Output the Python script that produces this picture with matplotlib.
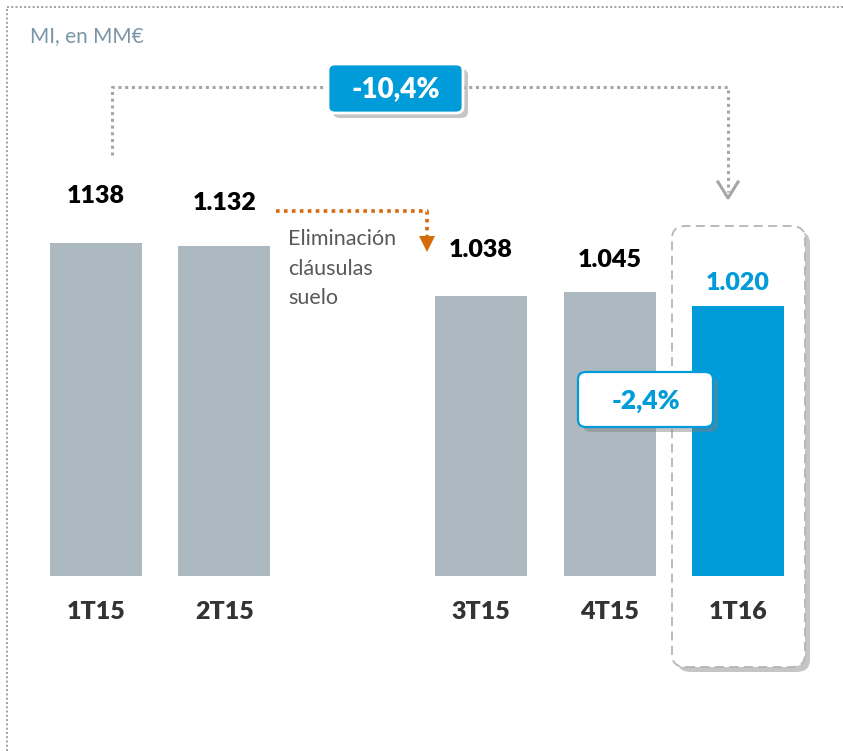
import matplotlib.pyplot as plt
from matplotlib.patches import FancyBboxPatch, Polygon

plt.rcParams['font.family'] = ['Lato', 'DejaVu Sans']

# datos
trimestres = ['1T15', '2T15', '3T15', '4T15', '1T16']
posiciones = [0, 1, 3, 4, 5]          # hueco entre 2T15 y 3T15
mi = [1138, 1132, 1038, 1045, 1020]
etiquetas = ['1138', '1.132', '1.038', '1.045', '1.020']
var_anual = '-10,4%'
var_trim = '-2,4%'

gris = '#adb9c0'
azul = '#009bd9'
W, H = 843, 751

fig = plt.figure(figsize=(W / 100, H / 100), dpi=100)
ax = fig.add_axes([0, 0, 1, 1])
ax.set_xlim(-0.7477, 5.818)
ax.set_ylim(179.8, 1596.8)
ax.axis('off')
tf = fig.transFigure


def P(x, y):
    # pixel (desde arriba) -> fraccion de figura
    return x / W, 1 - y / H


def caja(x0, y0, x1, y1, fc, ec, lw, ls='-', sombra=True, r=8, z=5):
    if sombra:
        s = FancyBboxPatch(P(x0 + 5, y1 + 5), (x1 - x0) / W, (y1 - y0) / H,
                           boxstyle=f'round,pad=0,rounding_size={r / W}',
                           transform=tf, fc='#7f7f7f', ec='none',
                           alpha=0.45, zorder=z - 0.1)
        ax.add_patch(s)
    b = FancyBboxPatch(P(x0, y1), (x1 - x0) / W, (y1 - y0) / H,
                       boxstyle=f'round,pad=0,rounding_size={r / W}',
                       transform=tf, fc=fc, ec=ec, lw=lw, ls=ls, zorder=z)
    ax.add_patch(b)


def linea(xs, ys, color, lw=2.2, ls=(0, (1, 1.2))):
    fx = [x / W for x in xs]
    fy = [1 - y / H for y in ys]
    ax.add_line(plt.Line2D(fx, fy, transform=tf, color=color,
                           lw=lw, ls=ls, zorder=3))


# borde punteado
linea([7, 7], [751, 7], '#a0a0a0', lw=1.4)
linea([7, 843], [7, 7], '#a0a0a0', lw=1.4)

ax.text(*P(30, 36), 'MI, en MM€', transform=tf, fontsize=15, color='#7b95a8', va='center')

# recuadro 1T16
caja(672, 226, 805, 667, 'white', '#b5b5b5', 1.3, ls=(0, (5, 3)), r=14, z=1)

colores = [gris, gris, gris, gris, azul]
ax.bar(posiciones, [v - 510 for v in mi], bottom=510, width=0.716,
       color=colores, zorder=2)

# separacion de cada etiqueta sobre su barra (unidades del eje)
sep = [89, 81, 87, 62, 43]
for p, v, t, c, q, s in zip(posiciones, mi, etiquetas, colores, trimestres, sep):
    col = azul if c == azul else 'black'
    ax.text(p, v + s, t, ha='center', va='center', fontsize=18,
            fontweight='heavy', color=col, zorder=7)
    ax.text(p, 510 - 67, q, ha='center', va='center',
            fontsize=18, fontweight='heavy', color='#333333', zorder=7)

# conector -10,4%
linea([112, 112, 330], [155, 87, 87], '#a6a6a6')
linea([462, 728, 728], [87, 87, 192], '#a6a6a6')
linea([718, 728, 738], [182, 198, 182], '#a6a6a6', ls='-')
caja(328, 64, 463, 113, azul, 'white', 2, r=7)
ax.text(*P(395.5, 89), var_anual, transform=tf, ha='center', va='center', fontsize=20,
        fontweight='heavy', color='white', zorder=8)

# flecha naranja
naranja = '#d56b0b'
linea([276, 427, 427], [211, 211, 236], naranja, lw=2.6)
ax.add_patch(Polygon([P(419, 236), P(435, 236), P(427, 252)], closed=True,
                     transform=tf, fc=naranja, ec='none', zorder=3))
ax.text(*P(288, 229), 'Eliminación\ncláusulas\nsuelo', transform=tf, ha='left', va='top',
        fontsize=15.5, color='#595959', linespacing=1.6)

# caja -2,4%
caja(578, 372, 713, 427, 'white', azul, 1.6, r=8)
ax.text(*P(645.5, 401), var_trim, transform=tf, ha='center', va='center', fontsize=19,
        fontweight='heavy', color=azul, zorder=8)

fig.savefig('out.png', dpi=100)
